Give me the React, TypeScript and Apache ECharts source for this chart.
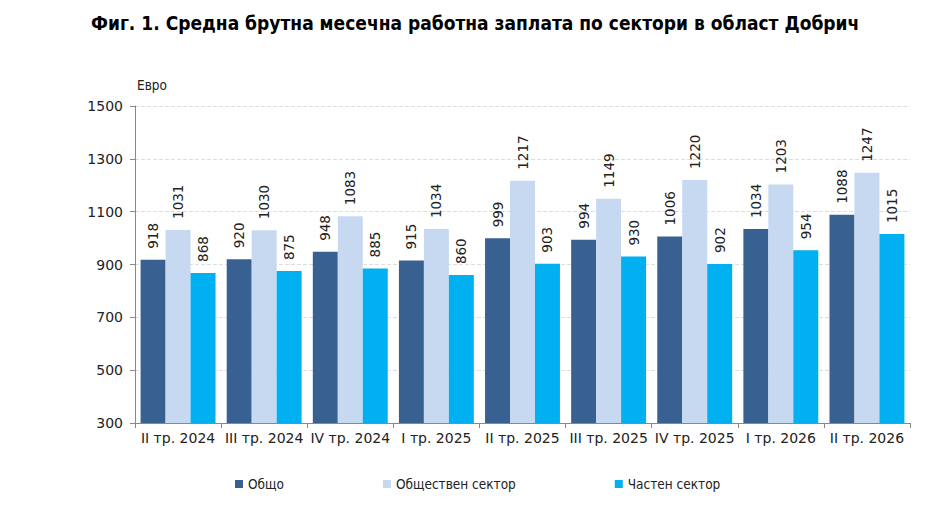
import React, { useEffect, useRef } from "react";
import * as echarts from "echarts";

const categories = [
  "II тр. 2024",
  "III тр. 2024",
  "IV тр. 2024",
  "I тр. 2025",
  "II тр. 2025",
  "III тр. 2025",
  "IV тр. 2025",
  "I тр. 2026",
  "II тр. 2026",
];
const total = [918, 920, 948, 915, 999, 994, 1006, 1034, 1088];
const publicSector = [1031, 1030, 1083, 1034, 1217, 1149, 1220, 1203, 1247];
const privateSector = [868, 875, 885, 860, 903, 930, 902, 954, 1015];
const seriesNames = ["Общо", "Обществен сектор", "Частен сектор"];
const colors = ["#386192", "#C6D9F1", "#00B0F0"];

export default function App() {
  const ref = useRef<HTMLDivElement>(null);
  useEffect(() => {
    document.body.style.margin = "0";
    const chart = echarts.init(ref.current!, undefined, { renderer: "svg" });
    const font = "'DejaVu Sans', Verdana, sans-serif";
    const condensed = "'DejaVu Sans Condensed', 'DejaVu Sans', sans-serif";
    const label = {
      show: true,
      position: "top",
      rotate: 90,
      align: "left",
      verticalAlign: "middle",
      distance: 11,
      fontSize: 13.5,
      fontFamily: font,
      color: "#222",
    };
    const datas = [total, publicSector, privateSector];
    chart.setOption({
      animation: false,
      title: {
        text: "Фиг. 1. Средна брутна месечна работна заплата по сектори в област Добрич",
        left: 86,
        top: 8,
        textStyle: {
          fontFamily: condensed,
          fontWeight: "bold",
          fontSize: 19,
          color: "#000",
        },
      },
      legend: {
        bottom: 9,
        left: 230,
        itemWidth: 8,
        itemHeight: 8,
        itemGap: 99,
        icon: "rect",
        textStyle: { fontFamily: condensed, fontSize: 13.5, color: "#222" },
        data: seriesNames,
      },
      grid: { left: 135, right: 40, top: 106, bottom: 82 },
      xAxis: {
        type: "category",
        data: categories,
        axisLine: { lineStyle: { color: "#888" } },
        axisTick: { show: true, alignWithLabel: false, lineStyle: { color: "#888" } },
        axisLabel: { fontFamily: font, fontSize: 14, color: "#222", margin: 8, interval: 0 },
      },
      yAxis: {
        type: "value",
        name: "Евро",
        nameLocation: "end",
        nameGap: 14,
        nameTextStyle: { fontFamily: condensed, fontSize: 13.5, color: "#222", align: "left", padding: [0, 0, 0, 2] },
        min: 300,
        max: 1500,
        interval: 200,
        axisLine: { show: true, lineStyle: { color: "#888" } },
        axisTick: { show: true, lineStyle: { color: "#888" } },
        axisLabel: { fontFamily: font, fontSize: 14, color: "#222", margin: 12, formatter: (v: number) => String(v) },
        splitLine: { lineStyle: { color: "#DDDDDD", type: [4, 2] } },
      },
      series: seriesNames.map((name, i) => ({
        name,
        type: "bar",
        data: datas[i],
        barGap: "0%",
        barCategoryGap: "13%",
        itemStyle: { color: colors[i] },
        label,
      })),
    });
    return () => chart.dispose();
  }, []);
  return <div ref={ref} style={{ width: 950, height: 505 }} />;
}
